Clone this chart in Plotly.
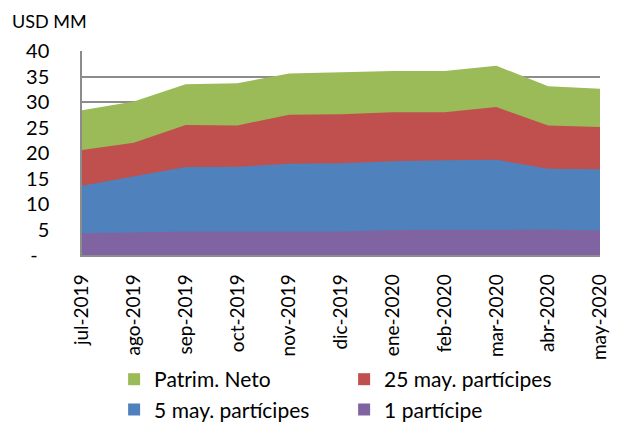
import plotly.graph_objects as go

categories = ["jul-2019", "ago-2019", "sep-2019", "oct-2019", "nov-2019", "dic-2019",
              "ene-2020", "feb-2020", "mar-2020", "abr-2020", "may-2020"]
patrim_neto = [28.4, 30.1, 33.5, 33.7, 35.6, 35.9, 36.1, 36.1, 37.1, 33.1, 32.6]
may25 = [20.6, 22.0, 25.5, 25.4, 27.5, 27.6, 28.0, 28.0, 29.0, 25.4, 25.1]
may5 = [13.6, 15.4, 17.25, 17.3, 17.9, 18.0, 18.4, 18.6, 18.7, 16.9, 16.8]
participe1 = [4.25, 4.4, 4.6, 4.6, 4.6, 4.6, 4.9, 4.9, 4.9, 5.0, 4.8]
y_ticks = [0, 5, 10, 15, 20, 25, 30, 35, 40]
y_ticktext = ["-\u2007", "5", "10", "15", "20", "25", "30", "35", "40"]

series = [
    ("Patrim. Neto", patrim_neto, "#9BBB59"),
    ("25 may. partícipes", may25, "#C0504D"),
    ("5 may. partícipes", may5, "#4F81BD"),
    ("1 partícipe", participe1, "#8064A2"),
]

FONT = "Lato"
fig = go.Figure()
xs = list(range(len(categories)))
for name, vals, col in series:
    fig.add_trace(go.Scatter(x=xs, y=vals, mode="lines", fill="tozeroy",
                             fillcolor=col, line=dict(width=0, color=col),
                             showlegend=False, hoverinfo="skip", name=name))
for name, vals, col in series:
    fig.add_trace(go.Scatter(x=[None], y=[None], mode="markers", name=name,
                             marker=dict(symbol="square", size=13, color=col)))

fig.update_layout(
    width=610, height=415,
    margin=dict(l=74, r=18, t=43, b=168, autoexpand=False),
    paper_bgcolor="white", plot_bgcolor="white",
    font=dict(family=FONT, size=19, color="#000000"),
    xaxis=dict(range=[0, len(categories) - 1], tickmode="array", tickvals=xs,
               ticktext=categories, tickangle=-90, showgrid=False, zeroline=False,
               showline=True, linecolor="#8C8C8C", linewidth=1.5, ticks="",
               ticklabelstandoff=10,
               tickfont=dict(family=FONT, size=19), automargin=False),
    yaxis=dict(range=[0, 40], tickmode="array", tickvals=y_ticks, ticktext=y_ticktext,
               showgrid=True, gridcolor="#8C8C8C", gridwidth=1.5, zeroline=False,
               showline=True, linecolor="#8C8C8C", linewidth=1.5, ticks="",
               ticklabelstandoff=27,
               tickfont=dict(family=FONT, size=20), automargin=False),
    legend=dict(orientation="h", x=0.062, xanchor="left", y=-0.51, yanchor="top",
                entrywidth=185, entrywidthmode="pixels",
                font=dict(family=FONT, size=21), bgcolor="rgba(0,0,0,0)",
                itemsizing="constant"),
    annotations=[
        dict(text="USD MM", xref="paper", yref="paper", x=-0.139, y=1.145,
             xanchor="left", yanchor="middle", showarrow=False,
             font=dict(family=FONT, size=18)),
        dict(text="<b>Concentración de partícipes</b>", xref="paper", yref="paper",
             x=0.65, y=1.29, xanchor="center", yanchor="middle", showarrow=False,
             font=dict(family=FONT, size=26)),
    ],
)

fig.write_html("out.html")
